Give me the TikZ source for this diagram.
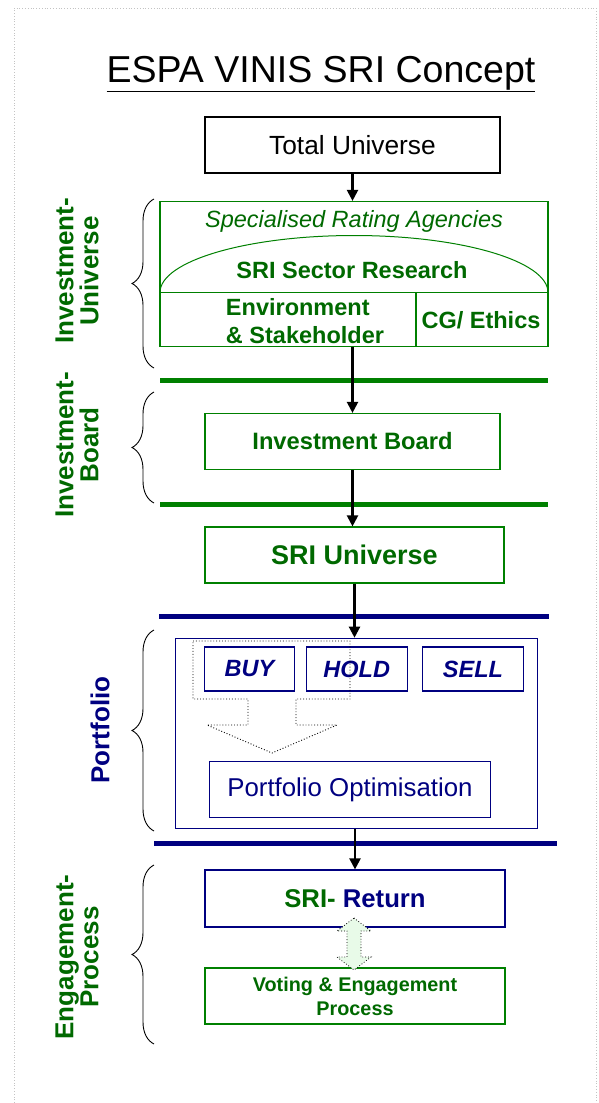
\documentclass[tikz,border=0pt]{standalone}
\usepackage{fontspec}
\setmainfont{Liberation Sans}
\usetikzlibrary{arrows.meta,positioning,decorations.pathreplacing}
\definecolor{sriGreen}{RGB}{0,128,0}
\definecolor{sriDark}{RGB}{0,105,0}
\definecolor{sriNavy}{RGB}{0,0,128}
\definecolor{sriMint}{RGB}{232,250,232}
\definecolor{pageGray}{RGB}{195,195,195}

\begin{document}
\begin{tikzpicture}[x=1pt, y=-1pt,
    gbox/.style={draw=sriGreen, line width=1.2pt, minimum width=295pt, minimum height=56pt, inner sep=0pt, font=\fontsize{23.7}{28}\selectfont\bfseries, text=sriDark, align=center},
    nbox/.style={draw=sriNavy, line width=1.2pt, minimum height=44pt, inner sep=0pt, font=\fontsize{23.5}{28}\selectfont\bfseries\itshape, text=sriNavy},
    gtext/.style={font=\fontsize{23.5}{28}\selectfont\bfseries, text=sriDark, inner sep=0pt},
    side/.style={rotate=90, align=center, inner sep=0pt, font=\fontsize{26}{25}\selectfont\bfseries, text=sriDark},
    sep/.style={line width=5pt},
    brc/.style={decorate, decoration={brace, amplitude=22pt}, line width=0.9pt},
    flow/.style={-{Triangle[length=11pt,width=11pt]}, line width=2.2pt},
    >=Stealth
]
\useasboundingbox (0,0) rectangle (598,1103);
\draw[pageGray, dotted, line width=0.8pt] (14,1103) -- (14,8) -- (596,8) -- (596,1103);

% title
\node[anchor=base, inner sep=0pt, font=\fontsize{37.5}{40}\selectfont] (title) at (321,82) {\underline{ESPA VINIS SRI Concept}};

% investment universe
\node[gbox, draw=black, font=\fontsize{26.3}{30}\selectfont, text=black] (tot) at (352.5,145) {Total Universe};
\node[draw=sriGreen, line width=1.2pt, minimum width=388pt, minimum height=145pt, inner sep=0pt] (iu) at (354,274) {};
\draw[sriGreen, line width=1.2pt] (160,292.5) -- (548,292.5);
\draw[sriGreen, line width=1.2pt] (416,292.5) -- (416,346.5);
\draw[sriGreen, line width=1pt] (160,292.5) arc[start angle=180, end angle=360, x radius=194, y radius=57];
\node[font=\fontsize{23.5}{26}\selectfont\itshape, text=sriDark, inner sep=0pt] (agency) at (354,221) {Specialised Rating Agencies};
\node[gtext] (sector) at (352,270) {SRI Sector Research};
\node[gtext, align=left] (env) at (305,321) {Environment\\\& Stakeholder};
\node[gtext] (cg) at (481,320) {CG/ Ethics};

% board and universe
\node[gbox] (ib) at (352.5,441.5) {Investment Board};
\node[gbox, minimum width=299pt, font=\fontsize{27}{30}\selectfont\bfseries] (sriu) at (354.5,555) {SRI Universe};

% portfolio
\node[draw=sriNavy, line width=1.2pt, minimum width=361.6pt, minimum height=190.4pt, inner sep=0pt] (pf) at (356.5,733.5) {};
\node[nbox, minimum width=90pt] (buy) at (249.5,669) {BUY};
\node[nbox, minimum width=101pt] (hold) at (356.7,669) {HOLD};
\node[nbox, minimum width=101pt] (sell) at (473,669) {SELL};
\node[nbox, minimum width=280.6pt, minimum height=56pt, font=\fontsize{25.8}{30}\selectfont] (opt) at (350,789.7) {Portfolio Optimisation};
\draw[dotted, line width=0.9pt] (193,641) -- (350,641) -- (350,699) -- (296,699) -- (296,725) -- (337,725) -- (272,753) -- (207,725) -- (248,725) -- (248,699) -- (193,699) -- cycle;

% engagement
\node[gbox, draw=sriNavy, minimum width=300pt, minimum height=57pt, font=\fontsize{25.7}{28}\selectfont\bfseries] (ret) at (355,898.5) {SRI- \textcolor{sriNavy}{Return}};
\node[gbox, minimum width=300pt, font=\fontsize{19.8}{24}\selectfont\bfseries] (vote) at (355,996) {Voting \& Engagement\\Process};
\draw[dotted, fill=sriMint, line width=0.8pt] (354,918) -- (371,931) -- (361,931) -- (361,957) -- (371,957) -- (354,970) -- (337,957) -- (347,957) -- (347,931) -- (337,931) -- cycle;

% phase separators
\draw[sep, sriGreen] (160,380) -- (548,380);
\draw[sep, sriGreen] (160,504.5) -- (548,504.5);
\draw[sep, sriNavy] (159,616) -- (549,616);
\draw[sep, sriNavy] (154,843) -- (557,843);

% flow
\draw[flow] (tot.south) -- (tot.south |- iu.north);
\draw[flow] (ib.north |- iu.south) -- (ib.north);
\draw[flow] (ib.south) -- (ib.south |- sriu.north);
\draw[flow] (sriu.south) -- (sriu.south |- pf.north);
\draw[flow] (ret.north |- pf.south) -- (ret.north);

% braces and phase labels
\draw[brc] (154,368) -- (154,199);
\draw[brc] (154,503) -- (154,392);
\draw[brc] (154,831) -- (154,630);
\draw[brc] (154,1044) -- (154,865);
\node[side] (lblU) at (77,271) {Investment-\\Universe};
\node[side] (lblB) at (77,445) {Investment-\\Board};
\node[side, text=sriNavy] (lblP) at (100,730) {Portfolio};
\node[side] (lblE) at (77,957) {Engagement-\\Process};
\end{tikzpicture}
\end{document}
